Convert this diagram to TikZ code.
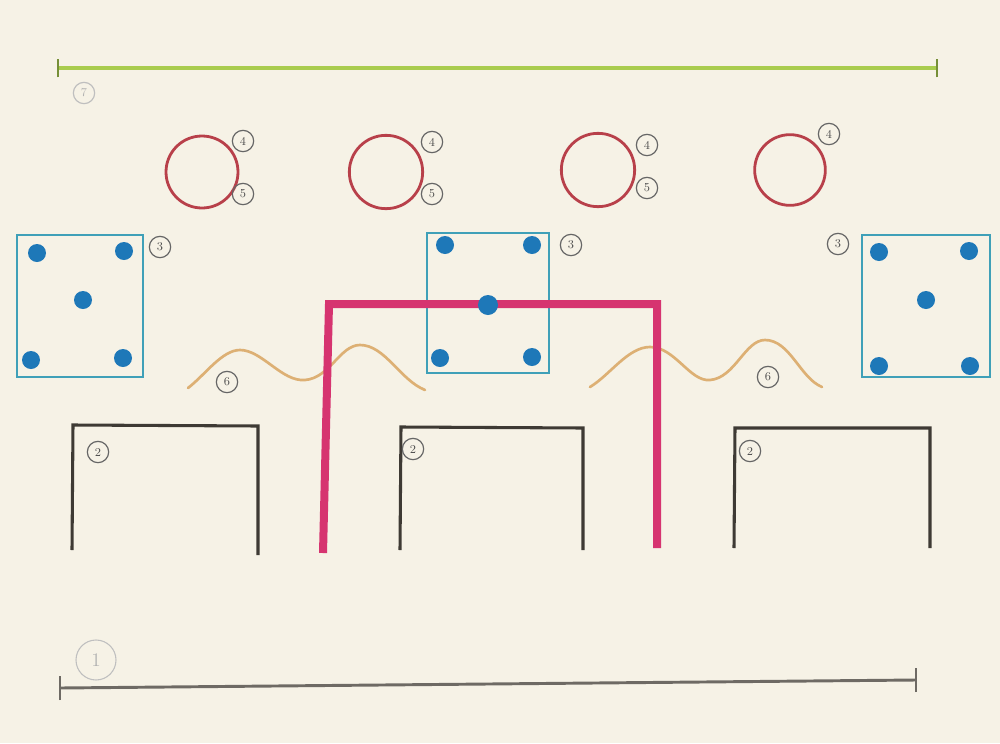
\documentclass[tikz,border=0pt]{standalone}
\usepackage{tikz}
\begin{document}
\begin{tikzpicture}[x=0.75pt,y=-0.75pt,
  numlabel/.style={circle,draw=gray!80!black,line width=0.9pt,inner sep=0.5pt,minimum size=16pt,text=gray!60!black,font=\small},
  bignum/.style={circle,draw=gray!50,line width=0.8pt,minimum size=30pt,inner sep=0pt,text=gray!60,font=\Large},
  ringstyle/.style={circle,draw=ring,line width=2.1pt,inner sep=0pt},
  boxstyle/.style={draw=boxblue,line width=1.9pt},
  dotstyle/.style={fill=dotblue,circle,inner sep=0pt,minimum size=13.5pt},
  framestyle/.style={draw=frameblack,line width=2.3pt},
  wavestyle/.style={draw=waveorange,line width=2pt,line cap=round},
]
\definecolor{bg}{HTML}{F6F2E6}
\definecolor{ring}{HTML}{B8404A}
\definecolor{boxblue}{HTML}{3FA0B8}
\definecolor{dotblue}{HTML}{1E78B8}
\definecolor{frameblack}{HTML}{3E3A34}
\definecolor{waveorange}{HTML}{DDB074}
\definecolor{lime}{HTML}{A9CC4E}
\definecolor{magenta}{HTML}{D63470}
\definecolor{rulegray}{HTML}{6E6A64}
\fill[bg] (0,0) rectangle (1000,743);
\useasboundingbox (0,0) rectangle (1000,743);

% green line (7)
\coordinate (gL) at (58,68);
\coordinate (gR) at (937,68);
\draw[lime,line width=2.4pt] (gL) -- (gR);
\draw[lime!70!black,line width=2pt] ([yshift=-7]gL) -- ([yshift=7]gL);
\draw[lime!70!black,line width=2pt] ([yshift=-7]gR) -- ([yshift=7]gR);
\node[numlabel,draw=gray!50,text=gray!60] (n7) at (84,93) {7};

% red circles
\node[ringstyle,minimum size=54pt] (c1) at (202,172) {};
\node[ringstyle,minimum size=55pt] (c2) at (386,172) {};
\node[ringstyle,minimum size=55pt] (c3) at (598,170) {};
\node[ringstyle,minimum size=53pt] (c4) at (790,170) {};
\node[numlabel] (l4a) at (243,141) {4};
\node[numlabel] (l5a) at (243,194) {5};
\node[numlabel] (l4b) at (432,142) {4};
\node[numlabel] (l5b) at (432,194) {5};
\node[numlabel] (l4c) at (647,145) {4};
\node[numlabel] (l5c) at (647,188) {5};
\node[numlabel] (l4d) at (829,134) {4};

% blue boxes
\draw[boxstyle] (17,235) rectangle (143,377);
\node[dotstyle] (d11) at (37,253) {};
\node[dotstyle] (d12) at (124,251) {};
\node[dotstyle] (d13) at (83,300) {};
\node[dotstyle] (d14) at (31,360) {};
\node[dotstyle] (d15) at (123,358) {};
\node[numlabel] (l3a) at (160,247) {3};

\draw[boxstyle] (427,233) rectangle (549,373);
\node[dotstyle] (d21) at (445,245) {};
\node[dotstyle] (d22) at (532,245) {};
\node[dotstyle] (d24) at (440,358) {};
\node[dotstyle] (d25) at (532,357) {};
\node[numlabel] (l3b) at (571,245) {3};

\draw[boxstyle] (862,235) rectangle (990,377);
\node[dotstyle] (d31) at (879,252) {};
\node[dotstyle] (d32) at (969,251) {};
\node[dotstyle] (d33) at (926,300) {};
\node[dotstyle] (d34) at (879,366) {};
\node[dotstyle] (d35) at (970,366) {};
\node[numlabel] (l3c) at (838,244) {3};

% waves
\draw[wavestyle] (188,388) .. controls (205,375) and (222,350) .. (240,350)
  .. controls (262,350) and (282,382) .. (305,380)
  .. controls (330,378) and (340,345) .. (360,345)
  .. controls (385,345) and (400,380) .. (425,390);
\draw[wavestyle] (590,387) .. controls (610,375) and (628,347) .. (650,347)
  .. controls (675,347) and (690,382) .. (710,380)
  .. controls (735,378) and (745,340) .. (765,340)
  .. controls (790,340) and (800,378) .. (822,387);
\node[numlabel] (l6a) at (227,382) {6};
\node[numlabel] (l6b) at (768,377) {6};

% black frames
\draw[framestyle] (72,550) -- (73,425) -- (258,426) -- (258,555);
\draw[framestyle] (400,550) -- (401,427) -- (583,428) -- (583,550);
\draw[framestyle] (734,548) -- (735,428) -- (930,428) -- (930,548);
\node[numlabel] (l2a) at (98,452) {2};
\node[numlabel] (l2b) at (413,449) {2};
\node[numlabel] (l2c) at (750,451) {2};

% magenta frame
\draw[magenta,line width=6pt,line join=miter] (323,553) -- (329,304) -- (657,304) -- (657,548);
\node[dotstyle,minimum size=15pt] (d23) at (488,305) {};

% bottom line (1)
\coordinate (bL) at (60,688);
\coordinate (bR) at (916,680);
\draw[rulegray,line width=2.2pt] (bL) -- (bR);
\draw[rulegray,line width=2pt] ([yshift=-9]bL) -- ([yshift=9]bL);
\draw[rulegray,line width=2pt] ([yshift=-9]bR) -- ([yshift=9]bR);
\node[bignum] (l1) at (96,660) {1};
\end{tikzpicture}
\end{document}
